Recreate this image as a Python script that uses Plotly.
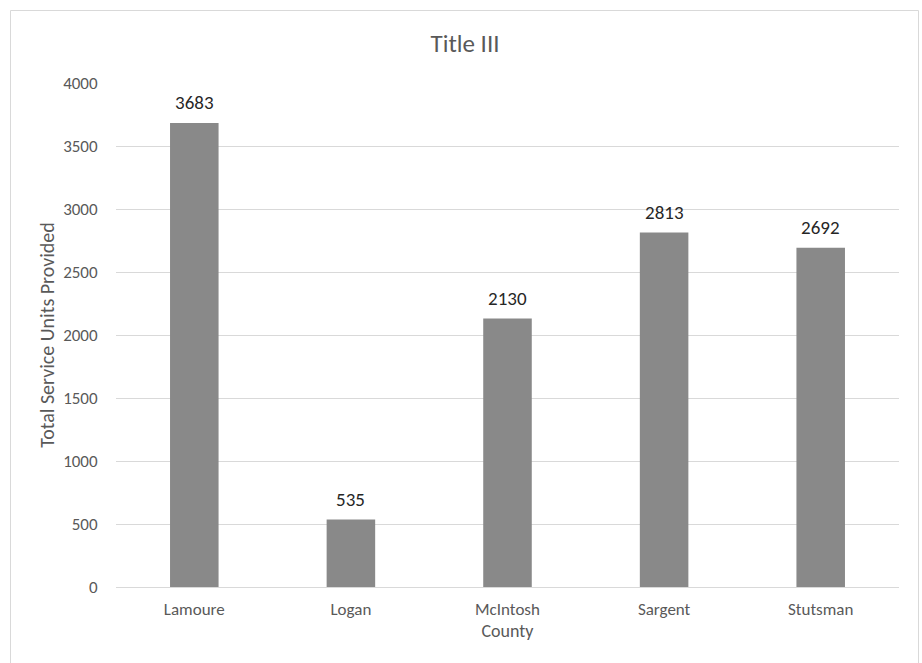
import plotly.graph_objects as go

counties = ["Lamoure", "Logan", "McIntosh", "Sargent", "Stutsman"]
units = [3683, 535, 2130, 2813, 2692]
y_ticks = [0, 500, 1000, 1500, 2000, 2500, 3000, 3500, 4000]

FONT = "Calibri, Carlito, Lato, 'Open Sans', sans-serif"
GREY = "#595959"

fig = go.Figure()
fig.add_trace(go.Bar(
    x=counties, y=units,
    marker=dict(color="#898989", line=dict(width=0)),
    width=0.31,
    hoverinfo="x+y",
))

for c, v in zip(counties, units):
    fig.add_annotation(x=c, y=v, text=str(v), showarrow=False,
                       yanchor="bottom", yshift=7,
                       font=dict(family=FONT, size=19, color="#262626"))

# chart border
pl, pr, pt, pb = 116, 23, 83, 76
W, H = 922, 663
pw, ph = W - pl - pr, H - pt - pb
def px2paper_x(x): return (x - pl) / pw
def px2paper_y(y): return (H - pb - y) / ph
fig.add_shape(type="rect", xref="paper", yref="paper",
              x0=px2paper_x(10.5), x1=px2paper_x(918.5),
              y0=px2paper_y(690), y1=px2paper_y(10.5),
              line=dict(color="#d9d9d9", width=1), fillcolor="rgba(0,0,0,0)",
              layer="below")

fig.update_layout(
    width=W, height=H,
    margin=dict(l=pl, r=pr, t=pt, b=pb),
    paper_bgcolor="white", plot_bgcolor="white",
    font=dict(family=FONT, color=GREY),
    title=dict(text="Title III", x=465 / W, xanchor="center",
               y=1 - 43 / H, yanchor="middle",
               font=dict(family=FONT, size=25, color=GREY)),
    showlegend=False,
    bargap=0.69,
)
fig.update_xaxes(
    showgrid=False, showline=True, linecolor="#d9d9d9", linewidth=1,
    ticks="outside", ticklen=7, tickcolor="rgba(0,0,0,0)",
    tickfont=dict(family=FONT, size=17, color=GREY),
    title=dict(text="County", font=dict(family=FONT, size=18, color=GREY), standoff=4),
)
fig.update_yaxes(
    range=[0, 4000], tickvals=y_ticks,
    showgrid=True, gridcolor="#d9d9d9", gridwidth=1,
    zeroline=False, showline=False,
    ticks="outside", ticklen=14, tickcolor="rgba(0,0,0,0)",
    tickfont=dict(family=FONT, size=17, color=GREY),
    title=dict(text="Total Service Units Provided",
               font=dict(family=FONT, size=20, color=GREY), standoff=3),
)

fig.write_html("out.html", config={"displayModeBar": False},
               post_script="document.body.style.margin='0px';")
